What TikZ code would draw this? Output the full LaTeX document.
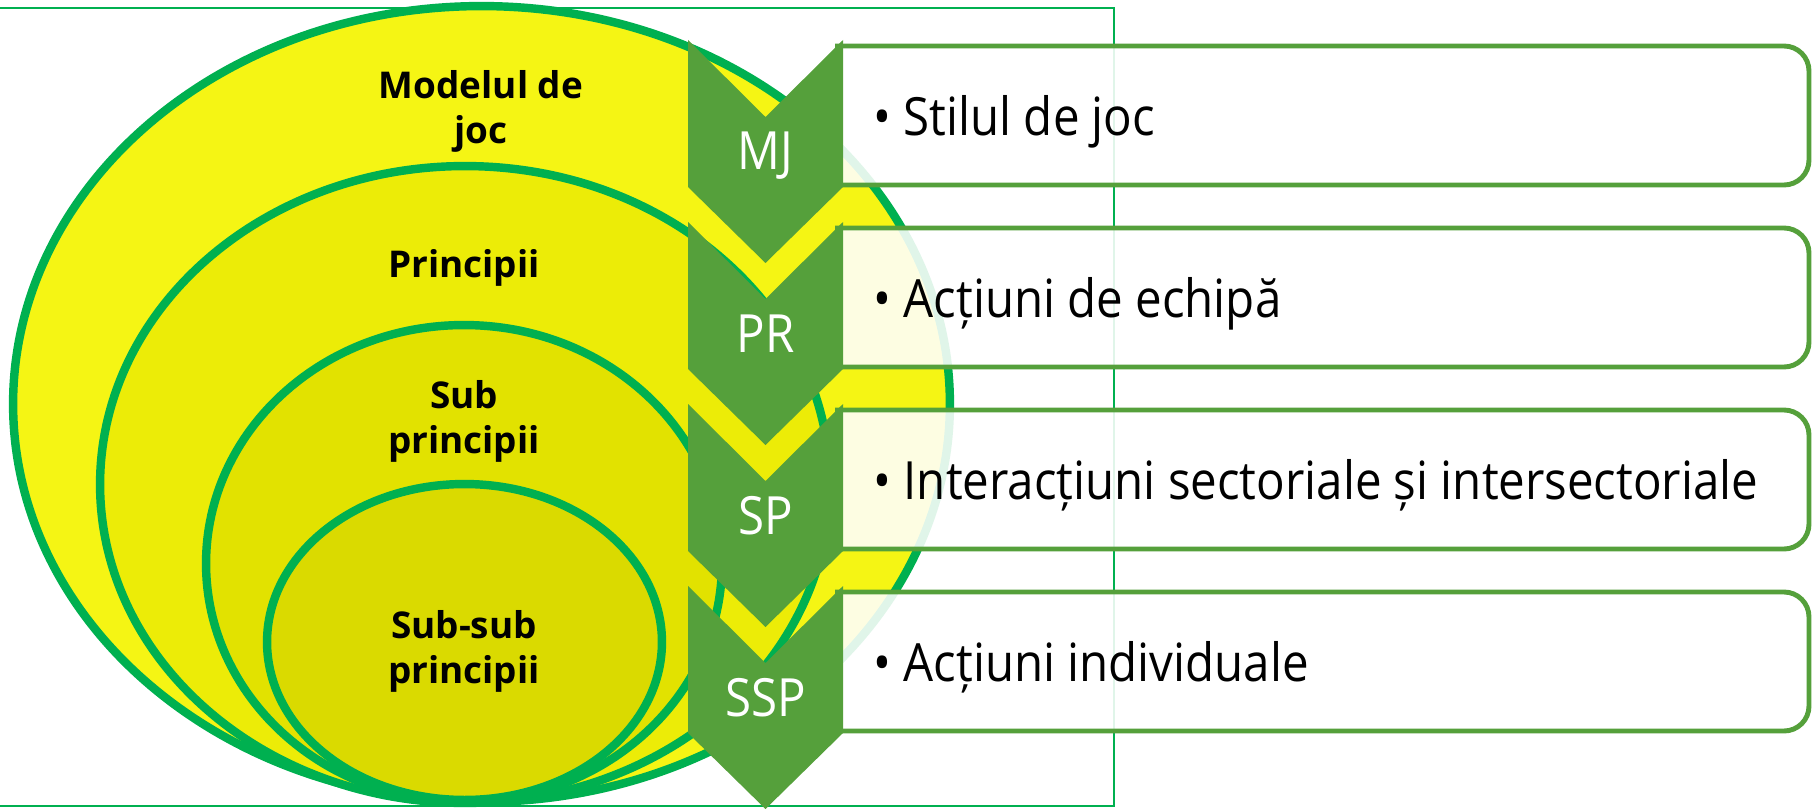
\documentclass[tikz,border=0pt]{standalone}
\usepackage{fontspec}
\usepackage{xcolor}
\setmainfont{Open Sans}
\newfontfamily\boxfont[FakeStretch=0.9]{Open Sans}
\usetikzlibrary{shapes.geometric, shadows}

\definecolor{ringgreen}{HTML}{00B050}
\definecolor{chevgreen}{HTML}{55A03B}
\definecolor{yellowA}{HTML}{F5F514}
\definecolor{yellowB}{HTML}{ECEC07}
\definecolor{yellowC}{HTML}{E2E200}
\definecolor{yellowD}{HTML}{DADA00}

\tikzset{
    ring/.style={draw=ringgreen, line width=4.8pt, ellipse, inner sep=0pt,
        drop shadow={shadow xshift=0pt, shadow yshift=-2pt, opacity=0.3}},
    ringlabel/.style={font=\bfseries\fontsize{21}{25.6}\selectfont, align=center, inner sep=0pt},
    itembox/.style={draw=chevgreen, line width=2.8pt, fill=white, fill opacity=0.88, rounded corners=0.5cm},
    itemtext/.style={font=\boxfont\fontsize{30}{35}\selectfont, anchor=base west, inner sep=0pt},
    chevron/.style={fill=chevgreen},
    chevlabel/.style={text=white, font=\boxfont\fontsize{30}{35}\selectfont, anchor=base, inner sep=0pt}
}

\begin{document}
\begin{tikzpicture}[x=0.02cm, y=-0.02cm]
                \useasboundingbox (0, 0) rectangle (1820, 811);

                % frame
                \draw[ringgreen, line width=1.1pt] (-5, 8) rectangle (1114, 806);

                % nested rings
                \node[ring, fill=yellowA, minimum width=18.74cm, minimum height=15.92cm] (mj) at (481.5, 404) {};
                \node[ring, fill=yellowB, minimum width=14.6cm, minimum height=12.74cm] (pr) at (465, 484.5) {};
                \node[ring, fill=yellowC, minimum width=10.32cm, minimum height=9.54cm] (sp) at (464, 563.5) {};
                \node[ring, fill=yellowD, minimum width=7.9cm, minimum height=6.32cm] (ssp) at (464.5, 642) {};

                \node[ringlabel] (mjlabel) at (481, 111) {Modelul de\\joc};
                \node[ringlabel, anchor=base] (prlabel) at (464, 277) {Principii};
                \node[ringlabel] (splabel) at (464, 421) {Sub\\principii};
                \node[ringlabel] (ssplabel) at (464, 651) {Sub-sub\\principii};

                % boxes, left side hidden under the chevrons
                \draw[itembox] (835, 46) -- (1809, 46) -- (1809, 185) -- (835, 185);
                \draw[itembox] (835, 228) -- (1809, 228) -- (1809, 367) -- (835, 367);
                \draw[itembox] (835, 410) -- (1809, 410) -- (1809, 549) -- (835, 549);
                \draw[itembox] (835, 592) -- (1809, 592) -- (1809, 731) -- (835, 731);

                \node[itemtext] (t1) at (873, 135) {\textbullet\hspace{0.25cm}Stilul de joc};
                \node[itemtext] (t2) at (873, 317) {\textbullet\hspace{0.25cm}Acțiuni de echipă};
                \node[itemtext] (t3) at (873, 499) {\textbullet\hspace{0.25cm}Interacțiuni sectoriale și intersectoriale};
                \node[itemtext] (t4) at (873, 681) {\textbullet\hspace{0.25cm}Acțiuni individuale};

                % chevrons
                \fill[chevron] (688, 40) -- ++(77.5, 77) -- ++(77.5, -77) -- ++(0, 147) -- ++(-77.5, 76) -- ++(-77.5, -76) -- cycle;
                \fill[chevron] (688, 222) -- ++(77.5, 77) -- ++(77.5, -77) -- ++(0, 147) -- ++(-77.5, 76) -- ++(-77.5, -76) -- cycle;
                \fill[chevron] (688, 404) -- ++(77.5, 77) -- ++(77.5, -77) -- ++(0, 147) -- ++(-77.5, 76) -- ++(-77.5, -76) -- cycle;
                \fill[chevron] (688, 586) -- ++(77.5, 77) -- ++(77.5, -77) -- ++(0, 147) -- ++(-77.5, 76) -- ++(-77.5, -76) -- cycle;

                \node[chevlabel] (c1) at (765.5, 170) {MJ};
                \node[chevlabel] (c2) at (765.5, 352) {PR};
                \node[chevlabel] (c3) at (765.5, 534) {SP};
                \node[chevlabel] (c4) at (765.5, 716) {SSP};
            \end{tikzpicture}
\end{document}
